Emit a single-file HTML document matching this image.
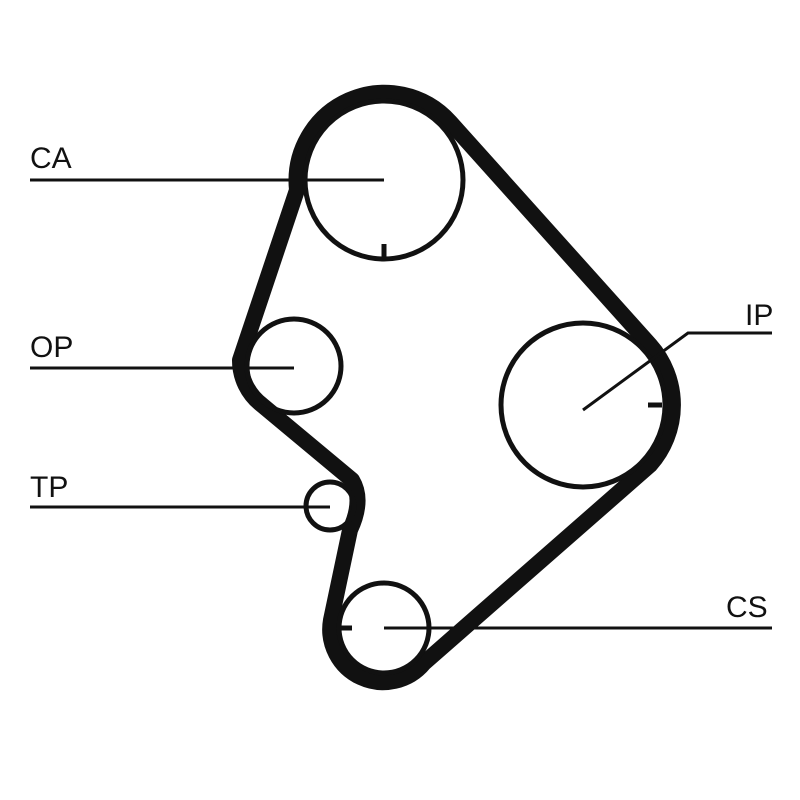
<!DOCTYPE html>
<html><head><style>
html,body{margin:0;padding:0;background:#fff;}
svg{display:block}
text{font-family:"Liberation Sans",sans-serif;font-size:30px;fill:#111}
</style></head><body>
<svg width="800" height="800" viewBox="0 0 800 800">
<g fill="none" stroke="#111">
<path d="M297,190 A88,88 0 0 1 450,122 L650,345 A90,90 0 0 1 650,465 L424,663 A53,53 0 0 1 331,620 L350,530 Q364,500 352,480 L262,405 A56,56 0 0 1 240,360 Z" stroke-width="16" stroke-linejoin="round"/>
<circle cx="384" cy="180" r="79" stroke-width="5"/>
<circle cx="583" cy="405" r="82" stroke-width="5"/>
<circle cx="294" cy="366" r="47" stroke-width="5"/>
<circle cx="330" cy="506" r="24" stroke-width="5"/>
<circle cx="384" cy="628" r="45" stroke-width="5"/>
<g stroke-width="3">
<line x1="30" y1="180" x2="384" y2="180"/>
<line x1="30" y1="368" x2="294" y2="368"/>
<line x1="30" y1="507" x2="330" y2="507"/>
<line x1="384" y1="628" x2="772" y2="628"/>
<polyline points="583,410 688,333 772,333"/>
</g>
<g stroke-width="5">
<line x1="384" y1="244" x2="384" y2="259"/>
<line x1="648" y1="405" x2="662" y2="405"/>
<line x1="338" y1="628" x2="352" y2="628"/>
</g>
</g>
<text x="30" y="168">CA</text>
<text x="30" y="357">OP</text>
<text x="30" y="497">TP</text>
<text x="745" y="325">IP</text>
<text x="726" y="617">CS</text>
</svg>
</body></html>
